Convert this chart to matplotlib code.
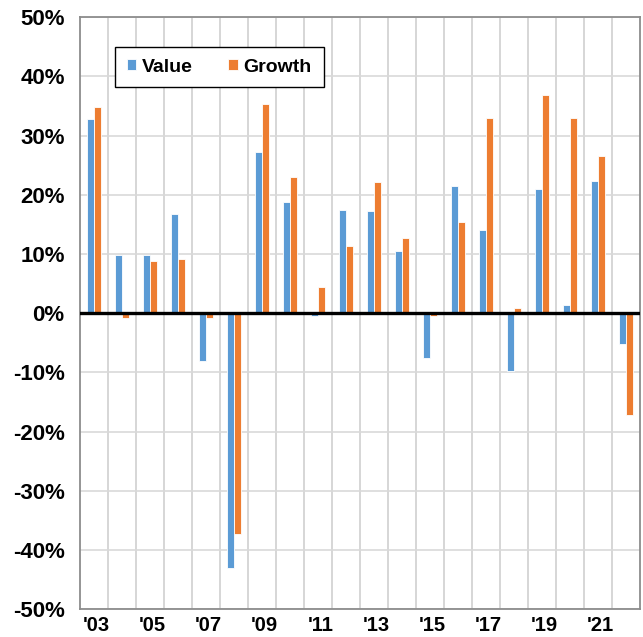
import matplotlib
matplotlib.use("Agg")
import matplotlib.pyplot as plt
import numpy as np
from matplotlib.ticker import FixedLocator

years = list(range(2003, 2023))
tick_labels = ["'03", "'05", "'07", "'09", "'11", "'13", "'15", "'17", "'19", "'21"]
value = [32.8, 9.85, 9.85, 16.8, -8.0, -43.1, 27.3, 18.75, -0.5, 17.4,
         17.2, 10.5, -7.6, 21.5, 14.1, -9.7, 21.0, 1.4, 22.35, -5.2]
growth = [34.8, -0.75, 8.9, 9.2, -0.85, -37.2, 35.4, 23.1, 4.4, 11.4,
          22.2, 12.8, -0.4, 15.5, 33.0, 0.85, 36.9, 33.0, 26.6, -17.1]

plt.rcParams['font.family'] = ['Liberation Sans', 'DejaVu Sans']
plt.rcParams['font.weight'] = 'bold'

fig = plt.figure(figsize=(6.43, 6.37), dpi=100)
ax = fig.add_axes([80/643, (637-609.3)/637, 560/643, (609.3-17.3)/637])

x = np.arange(len(years))
w = 0.25
ax.bar(x - 0.13, value, width=w, color='#5B9BD5', edgecolor='white', linewidth=0.6, label='Value', zorder=3)
ax.bar(x + 0.13, growth, width=w, color='#ED7D31', edgecolor='white', linewidth=0.6, label='Growth', zorder=3)

ax.set_xlim(-0.5, len(years) - 0.5)
ax.set_ylim(-50, 50)
ax.set_yticks(np.arange(-50, 51, 10))
ax.set_yticklabels([f"{v}%" for v in range(-50, 51, 10)], fontsize=16, fontweight='bold')
ax.set_xticks(x[::2] + 0.08)
ax.set_xticklabels(tick_labels, fontsize=14.5, fontweight='bold')
ax.xaxis.set_minor_locator(FixedLocator(np.arange(0.5, len(years) - 0.5, 1)))
ax.tick_params(axis='both', which='both', length=0)
ax.tick_params(axis='y', pad=11)
ax.tick_params(axis='x', pad=5)

ax.grid(axis='y', which='major', color='#d9d9d9', linewidth=1.2, zorder=0)
ax.grid(axis='x', which='minor', color='#cfcfcf', linewidth=1.2, zorder=0)
ax.grid(axis='x', which='major', visible=False)
ax.axhline(0, color='black', linewidth=2.4, zorder=4)

for s in ax.spines.values():
    s.set_color('#8c8c8c')
    s.set_linewidth(1.3)

leg = ax.legend(loc='upper left', bbox_to_anchor=(0.0625, 0.95), ncol=2,
                fancybox=False, framealpha=1, edgecolor='black',
                prop={'weight': 'bold', 'size': 14}, handlelength=0.5,
                handleheight=0.5, handletextpad=0.3, columnspacing=1.8,
                borderpad=0.6, borderaxespad=0)
leg.get_frame().set_linewidth(1.0)
leg.set_zorder(5)

fig.savefig("out.png", dpi=100)
